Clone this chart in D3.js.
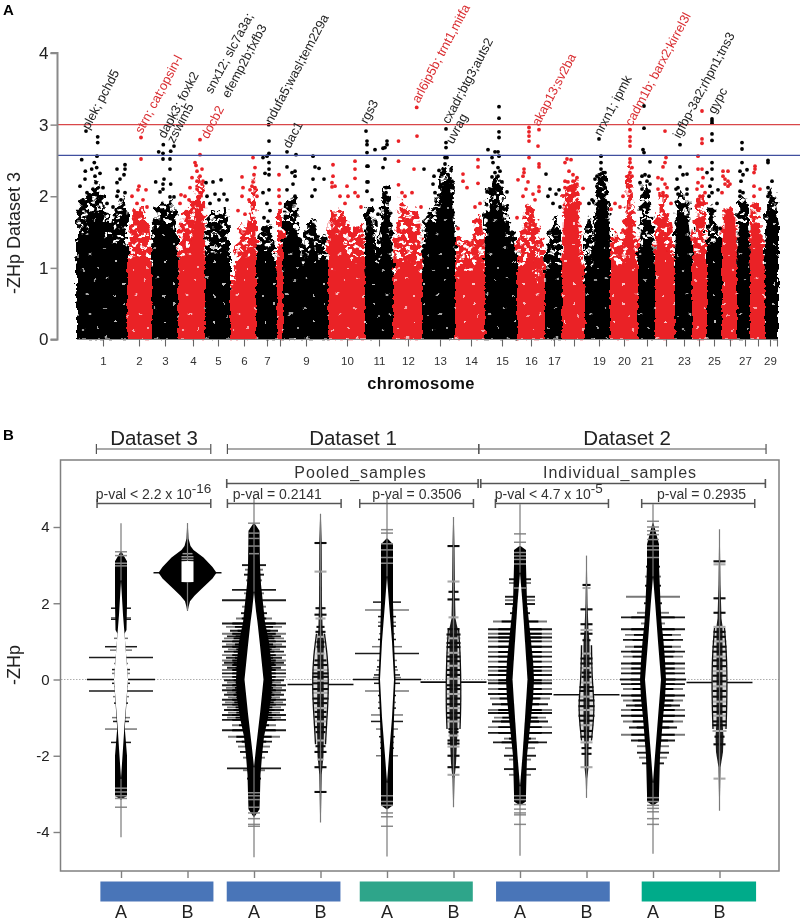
<!DOCTYPE html>
<html><head><meta charset="utf-8">
<script src="https://cdn.jsdelivr.net/npm/d3@7/dist/d3.min.js"></script>
<style>html,body{margin:0;padding:0;background:#fff}svg{display:block}text{font-family:"Liberation Sans",Arial,sans-serif}</style>
</head><body><svg id="c" width="800" height="922"></svg>
<script>
// ---------- Panel A data ----------
const chromTickLabels=["1","2","3","4","5","6","7","","9","10","11","12","13","14","15","16","17","","19","20","21","","23","","25","","27","","29",""];
const chromTickPos=[26,62,88,116,141,167,190,203,229,270,302,331,363,394,425,454,477,497,522,547,570,589,607,622,637,653,668,681,693,700];
const yTicksA=[0,1,2,3,4];
const thresholdRed=3, thresholdBlue=2.57;
// envelope per chromosome: [position, solid-core height, dense-cloud height]
const chromEnvelope=[
[[0,1.35,1.75],[3,1.45,1.95],[8,1.5,2.0],[12,1.6,2.05],[18,1.8,2.2],[24,1.7,2.1],[28,1.45,1.85],[34,1.3,1.65],[40,1.35,1.8],[46,1.4,2.0],[50,1.3,1.75]],
[[50,1.1,1.1],[52,1.12,1.45],[56,1.12,1.7],[62,1.12,1.85],[68,1.12,1.85],[72,1.12,1.6],[75,1.0,1.2]],
[[75,1.2,1.5],[78,1.5,1.75],[84,1.6,1.9],[90,1.6,1.95],[96,1.55,1.9],[101,1.2,1.45]],
[[101,.9,1.2],[104,1.15,1.7],[110,1.2,1.85],[114,1.3,1.9],[118,1.7,2.0],[122,2.0,2.3],[126,1.6,2.2],[128,1.1,1.5]],
[[128,1.1,1.4],[132,1.2,1.8],[138,1.2,1.85],[144,1.2,1.75],[148,1.25,1.85],[153,1.2,1.6]],
[[153,.7,.9],[158,.7,.95],[160,1.1,1.3],[165,1.15,1.6],[170,1.15,1.55],[174,1.2,1.9],[178,1.7,2.3],[179,1.2,1.6]],
[[179,1.1,1.3],[182,1.25,1.45],[186,1.25,1.55],[192,1.25,1.6],[196,1.2,1.45],[200,.9,1.1]],
[[200,1.3,1.8],[206,1.3,1.8]],
[[206,1.3,1.55],[210,1.45,1.9],[215,1.55,2.0],[219,1.55,1.95],[222,1.3,1.5],[226,1.05,1.35],[230,1.15,1.6],[236,1.3,1.7],[242,1.1,1.45],[247,1.1,1.5],[251,1.05,1.25]],
[[251,1.2,1.5],[254,1.5,1.8],[260,1.6,1.8],[265,1.4,1.85],[270,1.2,1.7],[275,1.1,1.55],[280,1.05,1.55],[285,1.1,1.7],[288,.9,1.2]],
[[288,1.4,1.7],[292,1.6,1.85],[296,1.5,1.85],[300,1.05,1.3],[303,1.1,1.55],[306,1.7,2.0],[310,1.85,2.15],[314,1.3,1.7],[316,.9,1.2]],
[[316,.85,1.2],[320,1.0,1.7],[326,1.1,1.95],[332,1.1,1.8],[338,1.05,1.85],[342,.95,1.75],[345,.9,1.3]],
[[345,.9,1.2],[348,1.3,1.7],[352,1.5,1.8],[358,1.6,1.85],[362,1.7,2.1],[366,2.1,2.45],[372,2.1,2.4],[376,1.9,2.2],[378,1.2,1.5]],
[[378,.9,1.4],[382,1.0,1.45],[390,.95,1.35],[396,.95,1.45],[400,1.1,1.75],[404,1.05,1.75],[408,.85,1.3]],
[[408,1.3,1.7],[412,1.75,2.1],[420,1.9,2.3],[426,1.7,2.05],[430,1.4,1.8],[436,1.3,1.5],[440,1.2,1.35]],
[[440,.95,1.35],[445,1.0,1.5],[450,1.1,1.9],[456,1.15,1.85],[460,.75,1.6],[464,1.0,1.5],[468,.85,1.2]],
[[468,.9,1.1],[472,1.05,1.5],[476,1.1,1.65],[480,1.05,1.75],[485,.9,1.1]],
[[485,.95,1.3],[488,1.8,2.1],[494,1.9,2.2],[500,1.85,2.25],[504,1.0,1.5],[508,.6,1.0]],
[[508,.9,1.5],[512,1.05,1.75],[516,1.0,1.4],[518,1.5,2.0],[524,1.95,2.35],[530,1.9,2.2],[533,1.3,1.6]],
[[533,.9,1.3],[538,1.05,1.55],[544,1.0,1.4],[548,1.05,1.7],[552,1.8,2.5],[556,1.4,1.85],[561,1.0,1.3]],
[[561,1.1,1.4],[564,1.3,1.85],[568,1.3,2.2],[572,1.3,2.0],[576,1.25,1.5],[578,1.0,1.2]],
[[578,1.2,1.6],[582,1.5,2.0],[586,1.5,2.05],[590,1.2,1.75],[594,1.2,1.6],[598,.9,1.1]],
[[598,1.2,1.5],[601,1.8,2.1],[606,1.75,2.0],[610,1.7,2.0],[615,1.2,1.4]],
[[615,1.0,1.4],[618,1.15,1.7],[622,1.2,2.0],[626,1.2,2.0],[630,1.0,1.3]],
[[630,1.2,1.5],[634,1.35,1.9],[638,1.35,1.7],[642,1.4,1.5],[645,1.3,1.4]],
[[645,1.1,1.4],[648,1.8,1.85],[654,1.8,1.85],[658,1.7,1.75],[660,1.1,1.2]],
[[660,1.0,1.3],[663,1.6,2.0],[668,1.6,2.0],[672,1.4,1.6],[673,.9,1.2]],
[[673,1.1,1.5],[676,1.6,1.9],[681,1.6,1.9],[685,1.3,1.5],[688,.9,1.1]],
[[688,1.3,1.8],[692,1.8,2.1],[697,1.8,2.0],[701,1.6,1.8]]
];
// individually readable SNPs per chromosome: [position, -ZHp]
const chromHits=[
[[9,2.91],[20.7,2.83],[20.7,2.75],[20,2.56],[4.7,2.51],[17.3,2.47],[8.3,2.35],[14.7,2.38],[19.7,2.4],[23,2.32],[18,2.28],[40,2.38],[48,2.44],[48,2.38],[47,2.3],[43,2.24],[40,2.19],[8,2.24],[3,2.14],[19,2.19],[26,2.12],[41,2.07],[48,2.05],[40,2],[10,2.05],[16,2.1],[6,1.95],[13,2],[30,1.9],[36,1.85],[44,1.95]],
[[64,2.82],[64,2.52],[62,2.14],[61,2.09],[69,2.09],[55,2],[66,1.95],[60,1.9],[70,1.85],[57,1.8]],
[[81.7,2.62],[86.3,2.72],[93.7,2.63],[97,2.7],[86,2.6],[86,2.52],[93,2.52],[93,2.38],[87,2.24],[78.7,2.2],[86,2.17],[93.7,2.17],[83,2.06],[86,2.1],[93,1.99],[97,1.99]],
[[123,2.79],[123,2.58],[118,2.47],[119,2.43],[125,2.38],[120,2.35],[123,2.28],[115,2.26],[126,2.21],[120,2.21],[125,2.17],[113,2.12],[120,2.1],[123,2.05],[104,2.02],[108,2],[112,1.95],[103,1.9]],
[[129,2.19],[136,2.2],[144,2.23],[138,2.03],[147,2.03],[130,2],[142,1.95],[150,1.95],[133,1.9]],
[[176,2.54],[178,2.4],[177,2.3],[165,2.27],[176,2.2],[175,2.14],[178,2.12],[166,2.12],[173,2.09],[165,2],[180,2],[172,1.95],[161,1.8],[168,1.75]],
[[191.7,3],[192,2.77],[192,2.6],[186,2.54],[190,2.56],[192,2.47],[192,2.38],[188,2.32],[192,2.3],[186,2.05],[192,2.09],[190,1.9],[193,1.8],[187,1.7],[191,1.65]],
[[202,2.3],[202,2.09],[202,2],[203,1.9]],
[[210,2.62],[219,2.58],[236,2.56],[210,2.41],[218,2.35],[215,2.33],[218,2.28],[216,2.17],[210,2.09],[238,2.41],[242,2.39],[236,2.24],[247,2.24],[238,2.09],[218,2],[235,2]],
[[256,2.44],[256,2.28],[278,2.49],[278,2.38],[278,2.25],[255,2.19],[255,2.13],[258,2.14],[270,2.14],[278,2.05],[271,2],[263,2],[281,2],[268,1.9],[284,1.85]],
[[289,2.91],[290,2.77],[290,2.72],[290,2.61],[298,2.65],[310,2.77],[310,2.72],[306,2.67],[308,2.68],[290,2.42],[291,2.42],[308,2.52],[306,2.4],[290,2.2],[291,2.2],[309,2.12],[309,2.05],[290,2.07],[301,1.75],[295,1.95]],
[[321.5,2.77],[321.5,2.49],[321.5,2.16],[339.7,3.24],[340,2.84],[337,2.38],[325,2.05],[328,2],[335,2.05],[344,1.85]],
[[347,2.38],[369,2.94],[369,2.75],[369,2.68],[368,2.54],[370,2.54],[368,2.45],[366,2.38],[362,2.36],[366,2.33],[371,2.3],[375,2.21],[357,2.28],[356,2.17],[366,2.17],[373,2.14],[376,2.12],[358,2.05],[370,2.05]],
[[386,2.31],[386,2.21],[401,2.51],[401,2.41],[401,2.18],[390,2.12],[398,1.85],[403,1.9],[381,1.55]],
[[422,3.25],[422,3.09],[422,2.9],[422,2.82],[411,2.65],[418,2.62],[421,2.62],[422,2.56],[415,2.54],[416,2.47],[421,2.4],[423,2.35],[418,2.33],[415,2.27],[421,2.28],[418,2.21],[425,2.2],[413,2.1],[421,2.14],[430,2.06],[418,2.05],[410,2.06]],
[[452,2.96],[452,2.9],[452,2.84],[452,2.77],[462,2.93],[461,2.7],[452,2.54],[462,2.45],[462,2.41],[447,2.38],[447,2.33],[446,2.28],[441,2.23],[451,2.2],[449,2.1],[462,2.13],[462,2.07],[456,2.03],[446,2],[458,1.95],[440,1.7]],
[[469,2.31],[473,2.1],[482,2.09],[479,2.03],[471,2],[476,1.9],[483,1.85]],
[[490,2.52],[494,2.51],[488,2.47],[492,2.35],[496,2.3],[500,2.26],[488,2.21],[491,2.2],[496,2.21],[500,2.17],[506,2.11],[488,2.12],[493,2.12],[498,2.1],[490,2.03],[496,2],[503,1.9]],
[[522,2.8],[524,2.56],[524,2.47],[524,2.38],[526,2.33],[523,2.3],[520,2.28],[528,2.33],[518,2.24],[523,2.21],[526,2.17],[520,2.14],[525,2.1],[529,2.05],[512,1.9],[515,1.95]],
[[553,2.93],[553,2.83],[553,2.77],[553,2.7],[553,2.52],[553,2.47],[555,2.4],[553,2.33],[555,2.28],[553,2.21],[553,2.14],[553,2.07],[546,2],[538,1.9],[534,1.82],[543,1.85]],
[[567,3.26],[567,2.95],[566,2.65],[567,2.61],[573,2.48],[568,2.3],[565,2.28],[572,2.28],[563,2.19],[570,2.21],[573,2.17],[565,2.1],[572,2.07],[568,2]],
[[588,2.91],[589,2.54],[588,2.47],[586,2.41],[581,2.26],[585,2.24],[588,2.17],[581,2.1],[590,2.12],[586,2.05],[590,2],[594,1.9]],
[[603,2.72],[603,2.41],[610,2.31],[606,2.3],[600,2.24],[599,2.1],[610,2.1],[601,2.12],[601,2.03],[610,2.03]],
[[625,3.19],[625,2.8],[625,2.74],[621,2.56],[621,2.38],[625,2.38],[621,2.19],[626,2.26],[625,2.14],[620,2.1],[628,2.05],[623,2]],
[[635,3.08],[635,3.05],[635,3.02],[635,2.87],[635,2.78],[635,2.47],[635,2.38],[630,2.33],[635,2.24],[633,2.14],[635,2.05],[632,2],[641,2.09],[640,1.9],[643,1.55]],
[[646,2.35],[651,2.35],[646,2.28],[648,2.24],[651,2.21],[653,2.17],[648,2.17],[651,2.14],[645,2.05]],
[[665,2.75],[665,2.66],[665,2.47],[670,2.37],[663,2.35],[666,2.3],[664,2.21],[663,2.07],[666,2.05],[663,2]],
[[678,2.42],[678,2.38],[677,2.33],[677,2.14],[683,2.1],[677,2]],
[[691,2.5],[691,2.47],[695,2.21],[691,2.12],[693,2.05],[691,2]]
];
const geneLabels=["plek; pchd5","strn; cat;opsin-l","dapk3; foxk2","zswim5","snx12; slc7a3a;","efemp2b;fxfb3","docb2","ndufa5;wasl;tem229a","dac1","rgs3","arl6ip5b; trnt1,mitfa","cxadr;btg3;auts2","uvrag","akap13;sv2ba","nrxn1; ipmk","cadm1b; barx2;kirrel3l","igfbp-3a2;rhpn1;tns3","gypc"];
const genePos=[8,61,84,93,131,148,127,191,209,286,338,368,372,458,520,551,599,634];
const geneVal=[2.95,2.89,2.83,2.76,3.45,3.39,2.82,3.03,2.69,3.03,3.32,3.03,2.75,3.0,2.86,3.0,2.83,3.17];
const geneRed=[0,1,0,0,0,0,1,0,0,0,1,0,0,1,0,1,0,0];

// ---------- Panel B data ----------
const beanPos=[1,2,3,4,5,6,7,8,9,10];
const beanLabels=["A","B","A","B","A","B","A","B","A","B"];
const yTicksB=[-4,-2,0,2,4];
const beanTop=[4.1,4.1,4.77,4.35,4.77,4.26,4.6,3.25,4.6,3.94];
const beanBottom=[-4.14,1.8,-4.66,-3.75,-4.64,-3.35,-4.62,-3.1,-4.57,-3.44];
const beanMean=[0,2.8,0,-0.13,0,-0.07,0,-0.4,0,-0.08];
const beanMeanHalf=[34,34,0,33,34,33,0,33,33,33];
const beanBody=[
[[3.35,.5],[3.1,6],[2,6],[1.3,5.5],[1.2,3.5],[0,7],[-1.2,4],[-1.35,4],[-2,6],[-3.05,6],[-3.15,.5]],
[[4.1,.3],[3.7,1],[3.5,3],[3.4,6],[3.2,16],[2.95,25],[2.8,29],[2.65,25],[2.4,15],[2.2,7],[2.05,2.5],[1.9,1],[1.8,.3]],
[[4.1,.5],[3.9,5.5],[3,6],[2.5,7],[2,9],[1.5,11],[1,15],[.5,17],[0,18],[-.5,17],[-1,14],[-1.5,10],[-2,8],[-2.5,6.5],[-3,6],[-3.4,5.5],[-3.6,.5]],
[[4.3,.4],[3.6,1.2],[2,1.5],[1.3,2.2],[1,3.5],[.6,3],[-1.2,3.5],[-2,3],[-2.5,1.2],[-3.7,.4]],
[[3.7,.5],[3.55,6],[3,6],[2,6],[1,7],[0,8.5],[-1,7],[-2,6],[-3,6],[-3.3,6],[-3.4,.5]],
[[4.2,.4],[3.5,1],[2.2,1.5],[1.6,2],[1.35,4],[-.8,4],[-1.35,4],[-2.2,2.5],[-2.6,1],[-3.3,.4]],
[[3.5,.5],[3.4,6],[3,6],[2,7],[1.5,9],[1,11],[.5,13],[0,14],[-.5,13],[-1,11],[-1.5,9],[-2,7],[-3,6],[-3.2,6],[-3.3,.5]],
[[3.2,.3],[2,1],[1.3,2],[1,3],[-1.2,3],[-1.8,2],[-2.3,2],[-2.6,.8],[-3.1,.3]],
[[4.1,.5],[3.55,6],[3,6],[2,7.5],[1.5,8.5],[1,10.5],[.5,12],[0,13],[-.5,12],[-1,10],[-1.5,8.5],[-2,7],[-3,6],[-3.2,6],[-3.3,.5]],
[[3.9,.3],[2.5,1],[1.6,2],[1.4,3],[-1.1,3],[-1.5,4],[-1.9,3.5],[-2.3,1],[-3.4,.3]]
];
const beanLens=[
[[2.6,0],[1.7,2],[1.2,3.5],[0,7],[-1.2,3.5],[-1.8,2],[-2.6,0]],
[[3.11,0],[3.1,6],[2.56,6],[2.55,0]],
[[2.3,0],[1.8,2],[1.5,3.5],[.9,6],[0,9.5],[-.9,6],[-1.8,2],[-2.3,0]],
[],
[[2.7,0],[2,2],[1,5],[0,7],[-1,5],[-2,2],[-2.7,0]],
[],
[[2.8,0],[2,2.5],[1,5],[0,7.5],[-1,5],[-2,2.5],[-2.8,0]],
[],
[[2.7,0],[2,2.2],[1,5],[0,8],[-1,5],[-2,2],[-2.7,0]],
[]
];
const beanOutline=[[],[],[],
[[1.2,4],[.6,7],[0,8],[-.6,7.5],[-1.2,6],[-1.7,5]],
[],
[[1.35,5],[.6,7],[-.6,7.5],[-1.3,6.5]],
[],
[[.9,5],[0,5.5],[-.7,8],[-1.2,6.5],[-1.6,5]],
[],
[[1.35,5],[.5,7.5],[-.5,7.5],[-1.3,6.5]]
];
const beanRungs=[
[[3.35,6],[3.25,6],[3.05,6],[2.98,6],[1.87,10],[1.62,10],[1.58,10],[1.08,7],[.86,16],[.77,11],[.58,32],[.42,7],[.26,9],[.16,9],[-.1,9],[-.18,7],[-.3,32],[-.45,8],[-.62,7],[-1,9],[-1.1,8],[-1.3,16],[-1.65,10],[-2.85,6],[-2.95,6],[-3.05,6],[-3.12,6],[-3.35,6]],
[[3.22,6],[3.3,5],[3.15,6]],
[[4.1,6],[3.84,6],[3.7,6],[3.5,6],[3.3,5],[3,12],[2.88,9],[2.75,10],[2.6,8],[2.35,22],[2.26,10],[2.08,32],[1.91,12],[1.74,13],[1.6,18],[1.47,32],[1.38,28],[1.28,24],[1.2,32],[1.13,27],[1.08,30],[1,32],[.92,28],[.86,32],[.79,26],[.73,30],[.64,32],[.57,28],[.5,32],[.44,30],[.38,32],[.31,27],[.25,32],[.16,32],[.07,32],[-.02,30],[-.08,27],[-.15,32],[-.22,28],[-.28,32],[-.34,27],[-.4,30],[-.47,26],[-.53,32],[-.6,29],[-.66,32],[-.73,27],[-.8,30],[-.87,26],[-.93,32],[-1,27],[-1.06,32],[-1.2,22],[-1.33,32],[-1.5,26],[-1.63,18],[-1.76,16],[-1.9,14],[-2.05,11],[-2.33,27],[-2.38,11],[-2.6,7],[-2.97,6],[-3.05,6],[-3.15,6],[-3.35,6],[-3.5,6],[-3.65,6],[-3.8,6],[-3.85,6]],
[[3.58,6],[2.83,6],[1.87,5],[1.7,6],[1.6,5],[1.38,4],[1.25,5],[1.12,4],[.98,4],[.86,4],[.68,4],[.5,6],[.38,7],[.25,8],[.16,8],[.07,8],[-.03,8],[-.1,8],[-.25,8],[-.35,8],[-.5,8],[-.62,7],[-.75,6],[-.85,6],[-.98,6],[-1.1,6],[-1.25,6],[-1.38,5],[-1.6,4],[-1.75,5],[-1.9,6],[-2.1,3],[-2.3,6],[-2.95,6]],
[[3.93,6],[3.84,6],[3.56,6],[3.4,6],[3.2,6],[3.05,6],[2.03,14],[1.82,22],[1.65,9],[1.5,9],[1.4,9],[1.2,8],[1.05,9],[.86,15],[.68,32],[.5,10],[.33,10],[.25,11],[.12,13],[.05,14],[-.1,13],[-.3,22],[-.42,9],[-.6,9],[-.75,9],[-.93,16],[-1.1,16],[-1.3,11],[-1.5,8],[-1.65,7],[-1.8,7],[-2,11],[-3.05,6],[-3.2,6],[-3.3,6],[-3.5,6],[-3.6,6],[-3.85,6]],
[[3.5,6],[2.57,6],[2.3,5],[2.1,6],[1.63,5],[1.32,6],[1.18,7],[1.08,7],[.96,7],[.85,7],[.7,7],[.6,7],[.48,7],[.36,7],[.25,7],[.12,7],[.02,7],[-.15,7],[-.25,7],[-.38,7],[-.5,7],[-.65,7],[-.75,7],[-.88,7],[-1,7],[-1.1,7],[-1.3,5],[-1.38,5],[-1.47,5],[-1.6,6],[-1.68,6],[-1.76,6],[-2,6],[-2.3,6],[-2.5,6]],
[[3.82,6],[3.6,6],[3.33,6],[3.24,6],[3.15,6],[3.03,6],[2.63,11],[2.53,11],[2.4,6],[2.17,15],[2.08,15],[1.98,15],[1.87,8],[1.74,10],[1.52,27],[1.32,32],[1.2,32],[1.1,32],[1,32],[.86,32],[.72,32],[.6,32],[.47,32],[.33,32],[.23,32],[.12,32],[-.02,32],[-.1,32],[-.25,32],[-.38,32],[-.5,30],[-.65,28],[-.8,32],[-.88,32],[-1,26],[-1.1,28],[-1.25,32],[-1.4,32],[-1.55,16],[-1.65,27],[-1.8,15],[-2,16],[-2.1,11],[-2.35,16],[-2.5,11],[-3.05,6],[-3.15,6],[-3.28,6],[-3.4,6],[-3.5,6],[-3.55,6],[-3.8,6]],
[[2.48,4],[2.4,4],[1.84,6],[1.45,6],[1.3,6],[1.2,6],[1.03,4],[.68,5],[.55,6],[.42,6],[.3,6],[.18,5],[.07,5],[-.08,6],[-.2,7],[-.3,7],[-.45,8],[-.55,8],[-.7,8],[-.8,8],[-.95,8],[-1.08,7],[-1.2,7],[-1.35,6],[-1.5,6],[-1.65,6],[-1.8,5],[-1.95,5],[-2.3,6]],
[[4.15,6],[4,6],[3.9,6],[3.8,6],[3.67,6],[3.5,6],[3.4,6],[3.2,6],[2.96,7],[2.7,8],[2.46,8],[2.17,27],[2,9],[1.75,16],[1.63,32],[1.47,12],[1.32,32],[1.17,28],[1.04,30],[.86,28],[.73,32],[.6,30],[.42,32],[.29,32],[.16,32],[0,33],[-.12,32],[-.25,30],[-.42,32],[-.55,30],[-.68,27],[-.8,32],[-.95,32],[-1.1,30],[-1.26,24],[-1.45,32],[-1.6,22],[-1.75,16],[-1.92,16],[-2.05,14],[-2.2,11],[-3.1,6],[-3.2,6],[-3.3,6],[-3.38,6],[-3.47,6],[-3.65,6],[-3.8,6]],
[[3.1,6],[3.02,6],[2.13,6],[1.75,6],[1.38,6],[1.25,6],[1.12,6],[1,7],[.86,7],[.73,7],[.6,7],[.5,7],[.35,7],[.22,7],[.1,7],[-.05,7],[-.18,7],[-.3,7],[-.45,7],[-.58,7],[-.7,7],[-.85,7],[-.95,7],[-1.1,7],[-1.2,7],[-1.35,7],[-1.5,5],[-1.7,6],[-2.6,6]]
];
const groupBarFrom=[.69,2.59,4.59,6.64,8.83];
const groupBarTo=[2.39,4.3,6.29,8.35,10.55];
const groupBarColor=["#4a74b8","#4a74b8","#2da58a","#4a74b8","#00ab8a"];
const datasetNames=["Dataset 3","Dataset 1","Dataset 2"];
const datasetFrom=[.63,2.6,6.38], datasetTo=[2.35,6.38,10.7];
const sampleNames=["Pooled_samples","Individual_samples"];
const sampleFrom=[2.59,6.41], sampleTo=[6.37,10.69];
const pvalFrom=[.64,2.6,4.59,6.63,8.83], pvalTo=[2.35,4.31,6.3,8.33,10.53];
const pvalText=["p-val < 2.2 x 10","p-val = 0.2141","p-val = 0.3506","p-val < 4.7 x 10","p-val = 0.2935"];
const pvalSup=["-16","","","-5",""];
const pvalTextAt=[.62,2.68,4.78,6.62,9.06];

// ---------- Drawing ----------
const svg=d3.select("#c");
const defs=svg.append("defs");
const RED="#ea2127",BLACK="#000";
function filter(id,build){const f=defs.append("filter").attr("id",id).attr("filterUnits","userSpaceOnUse").attr("x",0).attr("y",0).attr("width",800).attr("height",922);build(f);}
function rough(id,freq,scale,seed){filter(id,f=>{
 f.append("feTurbulence").attr("type","fractalNoise").attr("baseFrequency",freq).attr("numOctaves",2).attr("seed",seed).attr("result","n");
 f.append("feDisplacementMap").attr("in","SourceGraphic").attr("in2","n").attr("scale",scale).attr("xChannelSelector","R").attr("yChannelSelector","G");
});}
rough("roughCore",.2,5,7);
rough("roughCloud",.16,12,3);
filter("soft",f=>f.append("feGaussianBlur").attr("stdDeviation",.4));
const cloudHoles=[[3,4,3.2,2],[12,2,2.4,1.8],[22,5,3.2,2],[32,3,2.4,1.8],[7,11,2.4,2.6],[17,12,3.4,1.8],[28,12,2.4,2.4],[2,19,3,1.8],[12,20,2.6,2.2],[23,20,3,1.8],[33,20,2.4,2.2],[7,27,3.2,1.8],[18,28,2.4,2.4],[28,27,3.2,1.8],[2,33,2.6,2],[13,34,3,1.7],[24,34,2.2,2],[34,31,2,1.8]];
const coreHoles=[[5,8,1.2,.7],[24,4,.9,1],[40,14,1.5,.7],[15,22,1,.9],[33,30,1.2,.7],[7,38,1.5,.7],[24,44,1,1],[45,40,1.2,.7],[14,56,.9,1.1],[37,54,1.6,.7],[28,16,1,.7],[48,28,.8,1]];
function tile(id,color,w,h,holes){
 const p=defs.append("pattern").attr("id",id).attr("patternUnits","userSpaceOnUse").attr("width",w).attr("height",h);
 p.append("rect").attr("width",w).attr("height",h).attr("fill",color);
 p.selectAll("ellipse").data(holes).join("ellipse").attr("cx",d=>d[0]).attr("cy",d=>d[1]).attr("rx",d=>d[2]).attr("ry",d=>d[3]).attr("fill","#fff");
}
tile("cloudK",BLACK,36,36,cloudHoles);tile("cloudR",RED,36,36,cloudHoles);
tile("coreK",BLACK,50,60,coreHoles);tile("coreR",RED,50,60,coreHoles);

const root=svg.append("g").attr("filter","url(#soft)");
// Panel A
const xA=d3.scaleLinear().domain([0,700]).range([77,777]);
const yA=d3.scaleLinear().domain([0,4]).range([339.5,53]);
defs.append("clipPath").attr("id","baseClip").append("rect").attr("x",70).attr("y",0).attr("width",720).attr("height",340.5);
const massClip=root.append("g").attr("clip-path","url(#baseClip)");
const clouds=massClip.append("g").attr("filter","url(#roughCloud)");
const cores=massClip.append("g").attr("filter","url(#roughCore)");
const areaCloud=d3.area().x(d=>xA(d[0])).y0(yA(0.4)).y1(d=>yA(d[2])).curve(d3.curveMonotoneX);
const areaCore=d3.area().x(d=>xA(d[0])).y0(yA(0)).y1(d=>yA(d[1])).curve(d3.curveMonotoneX);
chromEnvelope.forEach((env,i)=>{
 const s=i%2?"R":"K";
 clouds.append("path").datum(env).attr("d",areaCloud).attr("fill",`url(#cloud${s})`);
 cores.append("path").datum(env).attr("d",areaCore).attr("fill",`url(#core${s})`);
});
chromHits.forEach((pts,i)=>{
 root.append("g").attr("fill",i%2?RED:BLACK).selectAll("circle").data(pts).join("circle")
  .attr("cx",d=>xA(d[0])).attr("cy",d=>yA(d[1])).attr("r",1.9);
});
root.append("line").attr("x1",57).attr("x2",800).attr("y1",yA(thresholdRed)).attr("y2",yA(thresholdRed)).attr("stroke","#d9464a").attr("stroke-width",1.2);
root.append("line").attr("x1",57).attr("x2",800).attr("y1",yA(thresholdBlue)).attr("y2",yA(thresholdBlue)).attr("stroke","#3f4f9f").attr("stroke-width",1.2);
const axA=root.append("g").attr("transform","translate(57.5,0)").call(d3.axisLeft(yA).tickValues(yTicksA).tickSize(7).tickFormat(d3.format("d")));
axA.select(".domain").attr("stroke","#8a8a8a").attr("stroke-width",2).attr("d",`M-7,${yA(4)}H0V${yA(0)}H-7`);
axA.selectAll(".tick line").attr("stroke","#8a8a8a").attr("stroke-width",1.5);
axA.selectAll("text").attr("font-size",17).attr("fill","#222").attr("font-family","Liberation Sans").attr("x",-9);
const axX=root.append("g").attr("transform",`translate(0,${yA(0)})`).call(d3.axisBottom(xA).tickValues(chromTickPos).tickSize(7).tickFormat((d,i)=>chromTickLabels[i]));
axX.select(".domain").attr("stroke","#8a8a8a").attr("stroke-width",1.2).attr("d",`M${xA(0)},0H${xA(chromTickPos[29])}`);
axX.selectAll(".tick line").attr("stroke","#666").attr("stroke-width",1.1);
axX.selectAll("text").attr("font-size",11.5).attr("fill","#333").attr("font-family","Liberation Sans").attr("y",17);
root.append("text").attr("x",421).attr("y",389).attr("text-anchor","middle").attr("font-weight","bold").attr("font-size",16.5).attr("letter-spacing",.4).attr("fill","#111").text("chromosome");
root.append("text").attr("transform","translate(20,233) rotate(-90)").attr("text-anchor","middle").attr("font-size",18).attr("fill","#222").text("-ZHp Dataset 3");
root.append("text").attr("x",3).attr("y",15).attr("font-size",15).attr("font-weight","bold").text("A");
root.append("g").selectAll("text").data(geneLabels).join("text")
 .attr("transform",(d,i)=>`translate(${xA(genePos[i])},${yA(geneVal[i])}) rotate(-62)`)
 .attr("dy",".35em").attr("font-size",12.8).attr("fill",(d,i)=>geneRed[i]?"#d92c30":"#222").text(d=>d);

// Panel B
const xB=d3.scaleLinear().domain([1,10]).range([121,719.5]);
const yB=d3.scaleLinear().domain([-4,4]).range([832,527]);
const GRAY="#808080";
root.append("line").attr("x1",61).attr("x2",779).attr("y1",yB(0)).attr("y2",yB(0)).attr("stroke","#999").attr("stroke-width",.8).attr("stroke-dasharray","1.5 1.5");
root.append("rect").attr("x",60.5).attr("y",460).attr("width",718.5).attr("height",411).attr("fill","none").attr("stroke",GRAY).attr("stroke-width",1.5);
const bodyArea=(cx)=>d3.area().y(d=>yB(d[0])).x0(d=>cx-d[1]).x1(d=>cx+d[1]);
beanPos.forEach((p,i)=>{
 const cx=xB(p),g=root.append("g"),isA=i%2===0,r=beanRungs[i];
 const dense=i===2||i===6||i===8;
 const rung=(sel,data,color,w)=>sel.selectAll(null).data(data).join("line")
   .attr("x1",d=>cx-d[1]).attr("x2",d=>cx+d[1]).attr("y1",d=>yB(d[0])).attr("y2",d=>yB(d[0]))
   .attr("stroke",color).attr("stroke-width",w);
 const long=isA?r.filter(d=>d[1]>6.5):[], short=isA?r.filter(d=>d[1]<=6.5):r;
 const wLong=dense?1.9:1.5;
 rung(g,long.filter((d,k)=>k%2===1),"#777",wLong);
 rung(g,long.filter((d,k)=>k%2===0),"#1a1a1a",wLong);
 if(dense) rung(g,long.filter(d=>Math.abs(d[0])<1.7).map(d=>[d[0],d[1]*.68]),"#000",1.9);
 if(beanMeanHalf[i]>0) g.append("line").attr("x1",cx-beanMeanHalf[i]).attr("x2",cx+beanMeanHalf[i]).attr("y1",yB(beanMean[i])).attr("y2",yB(beanMean[i])).attr("stroke","#111").attr("stroke-width",1.6);
 if(!isA&&beanOutline[i].length){
  // pale fill inside the wider part of the narrow beans
  g.append("path").datum(beanOutline[i]).attr("d",bodyArea(cx)).attr("fill","#ddd");
 }
 g.append("path").datum(beanBody[i]).attr("d",bodyArea(cx)).attr("fill",isA||i===1?"#000":"#111").attr("opacity",(!isA&&i!==1)?0.95:1);
 if(isA){
  rung(g,short,"#8a8a8a",1.5);
 } else {
  const c=beanOutline[i].length?"#fff":"#111";
  rung(g,short.filter((d,k)=>k%3===1&&i!==1),"#aaa",2.1);
  rung(g,short.filter((d,k)=>k%3!==1||i===1),i===1?"#999":"#0a0a0a",i===1?1.5:2.1);
 }
 if(beanOutline[i].length){
  [-1,1].forEach(s=>g.append("path").datum(beanOutline[i]).attr("d",d3.line().x(d=>cx+s*d[1]).y(d=>yB(d[0])).curve(d3.curveBasis)).attr("fill","none").attr("stroke","#111").attr("stroke-width",1.3));
 }
 if(beanLens[i].length) g.append("path").datum(beanLens[i]).attr("d",bodyArea(cx)).attr("fill","#fff");
 const lens=beanLens[i];
 const segs=lens.length?[[beanTop[i],lens[0][0]],[lens[lens.length-1][0],beanBottom[i]]]:[[beanTop[i],beanBottom[i]]];
 g.selectAll(null).data(i===1||!isA?segs.map(s=>[s[0],s[1]]).slice(0,2):segs).join("line").attr("x1",cx).attr("x2",cx).attr("y1",d=>yB(d[0])).attr("y2",d=>yB(d[1])).attr("stroke","#7a7a7a").attr("stroke-width",1.2);
});
const axL=root.append("g").attr("transform","translate(60.5,0)").call(d3.axisLeft(yB).tickValues(yTicksB).tickSize(7));
axL.select(".domain").remove();
axL.selectAll(".tick line").attr("stroke",GRAY).attr("stroke-width",1.4);
axL.selectAll("text").attr("font-size",15).attr("fill","#222").attr("font-family","Liberation Sans").attr("x",-11).text(d=>d);
const axB=root.append("g").attr("transform","translate(0,871)").call(d3.axisBottom(xB).tickValues(beanPos).tickSize(7).tickFormat(""));
axB.select(".domain").remove();
axB.selectAll(".tick line").attr("stroke",GRAY).attr("stroke-width",1.4);
root.append("text").attr("transform","translate(20,665) rotate(-90)").attr("text-anchor","middle").attr("font-size",18).attr("fill","#222").text("-ZHp");
root.append("text").attr("x",3).attr("y",440).attr("font-size",15).attr("font-weight","bold").text("B");
root.selectAll(null).data(groupBarFrom).join("rect").attr("x",d=>xB(d)).attr("y",881.5).attr("width",(d,i)=>xB(groupBarTo[i])-xB(d)).attr("height",20).attr("fill",(d,i)=>groupBarColor[i]);
root.selectAll(null).data(beanLabels).join("text").attr("x",(d,i)=>xB(beanPos[i])).attr("y",917.5).attr("text-anchor","middle").attr("font-size",18).attr("fill","#222").text(d=>d);
function bracket(from,to,py,w,cap){
 const g=root.append("g").attr("stroke","#555").attr("stroke-width",w);
 from.forEach((f,i)=>{
  g.append("line").attr("x1",xB(f)).attr("x2",xB(to[i])).attr("y1",py).attr("y2",py);
  [f,to[i]].forEach(e=>g.append("line").attr("x1",xB(e)).attr("x2",xB(e)).attr("y1",py-cap).attr("y2",py+cap));
 });
}
bracket(datasetFrom,datasetTo,449,1.2,5);
bracket(sampleFrom,sampleTo,483.5,1.6,4.5);
bracket(pvalFrom,pvalTo,503.5,1.5,4.5);
root.selectAll(null).data(datasetNames).join("text").attr("x",(d,i)=>[154,353,627][i]).attr("y",445).attr("text-anchor","middle").attr("font-size",20.5).attr("fill","#222").text(d=>d);
root.selectAll(null).data(sampleNames).join("text").attr("x",(d,i)=>[360.5,620][i]).attr("y",478).attr("text-anchor","middle").attr("font-size",16).attr("letter-spacing",1).attr("fill","#333").text(d=>d);
const pv=root.selectAll(null).data(pvalText).join("text").attr("x",(d,i)=>xB(pvalTextAt[i])).attr("y",499).attr("font-size",14).attr("fill","#333").text(d=>d);
pv.append("tspan").attr("dy",-6).attr("font-size",13.5).text((d,i)=>pvalSup[i]);
</script></body></html>
